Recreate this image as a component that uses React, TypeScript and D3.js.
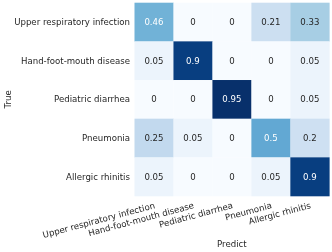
import { useEffect, useRef } from 'react';
import * as d3 from 'd3';

const classes = [
  'Upper respiratory infection',
  'Hand-foot-mouth disease',
  'Pediatric diarrhea',
  'Pneumonia',
  'Allergic rhinitis',
];

// rows = true class, columns = predicted class
const rowUpper = [0.46, 0, 0, 0.21, 0.33];
const rowHfmd = [0.05, 0.9, 0, 0, 0.05];
const rowDiarrhea = [0, 0, 0.95, 0, 0.05];
const rowPneumonia = [0.25, 0.05, 0, 0.5, 0.2];
const rowRhinitis = [0.05, 0, 0, 0.05, 0.9];

const matrix = [rowUpper, rowHfmd, rowDiarrhea, rowPneumonia, rowRhinitis];

const blues = ['#f7fbff', '#deebf7', '#c6dbef', '#9ecae1', '#6baed6', '#4292c6', '#2171b5', '#08519c', '#08306b'];

const App = () => {
  const svgRef = useRef<SVGSVGElement>(null);

  useEffect(() => {
    if (!svgRef.current) return;
    const svg = d3.select(svgRef.current);
    svg.selectAll('*').remove();

    const width = 332;
    const height = 252;
    const left = 134.5, top = 2.7, right = 329.3, bottom = 196;
    const font = 'DejaVu Sans, sans-serif';
    const textDark = '#262626';
    const fs = 8.6;

    svg.attr('width', width).attr('height', height).attr('font-family', font);

    const x = d3.scaleBand<string>().domain(classes).range([left, right]);
    const y = d3.scaleBand<string>().domain(classes).range([top, bottom]);

    const vmax = d3.max(matrix.flat()) as number;
    const color = d3.scaleLinear<string>()
      .domain(blues.map((_, i) => (i / (blues.length - 1)) * vmax))
      .range(blues)
      .interpolate(d3.interpolateRgb);

    const lum = (c: string) => {
      const rgb = d3.rgb(c);
      const f = (v: number) => {
        v /= 255;
        return v <= 0.03928 ? v / 12.92 : Math.pow((v + 0.055) / 1.055, 2.4);
      };
      return 0.2126 * f(rgb.r) + 0.7152 * f(rgb.g) + 0.0722 * f(rgb.b);
    };

    const cells = matrix.flatMap((row, i) => row.map((v, j) => ({ r: classes[i], c: classes[j], v })));

    const g = svg.append('g');
    g.selectAll('rect')
      .data(cells)
      .enter()
      .append('rect')
      .attr('x', d => x(d.c)!)
      .attr('y', d => y(d.r)!)
      .attr('width', x.bandwidth() + 0.3)
      .attr('height', y.bandwidth() + 0.3)
      .attr('fill', d => color(d.v));

    g.selectAll('text.val')
      .data(cells)
      .enter()
      .append('text')
      .attr('class', 'val')
      .attr('x', d => x(d.c)! + x.bandwidth() / 2)
      .attr('y', d => y(d.r)! + y.bandwidth() / 2)
      .attr('text-anchor', 'middle')
      .attr('dominant-baseline', 'central')
      .attr('font-size', fs)
      .attr('fill', d => (lum(color(d.v)) > 0.408 ? textDark : '#ffffff'))
      .text(d => String(d.v));

    // y tick labels
    svg.append('g')
      .selectAll('text')
      .data(classes)
      .enter()
      .append('text')
      .attr('x', left - 4.5)
      .attr('y', d => y(d)! + y.bandwidth() / 2)
      .attr('text-anchor', 'end')
      .attr('dominant-baseline', 'central')
      .attr('font-size', fs)
      .attr('fill', textDark)
      .text(d => d);

    // x tick labels, rotated
    svg.append('g')
      .selectAll('text')
      .data(classes)
      .enter()
      .append('text')
      .attr('transform', d => `translate(${x(d)! + x.bandwidth() / 2 + 1.5},${bottom + 12}) rotate(-15)`)
      .attr('text-anchor', 'end')
      .attr('font-size', fs)
      .attr('fill', textDark)
      .text(d => d);

    svg.append('text')
      .attr('transform', `translate(10.5,${(top + bottom) / 2}) rotate(-90)`)
      .attr('text-anchor', 'middle')
      .attr('font-size', fs)
      .attr('fill', textDark)
      .text('True');

    svg.append('text')
      .attr('x', (left + right) / 2)
      .attr('y', 247)
      .attr('text-anchor', 'middle')
      .attr('font-size', fs)
      .attr('fill', textDark)
      .text('Predict');
  }, []);

  return (
    <svg ref={svgRef} style={{ position: 'fixed', left: 0, top: 0 }}></svg>
  );
};

export default App;
